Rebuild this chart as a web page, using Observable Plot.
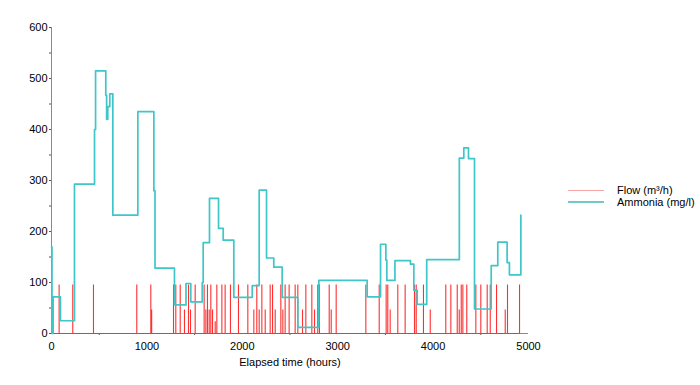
<!DOCTYPE html>
<html>
<head>
<meta charset="utf-8">
<script src="https://cdn.jsdelivr.net/npm/d3@7"></script>
<script src="https://cdn.jsdelivr.net/npm/@observablehq/plot@0.6"></script>
<style>
  body { margin: 0; background: #fff; }
  #wrap { position: relative; width: 700px; height: 385px; font-family: "Liberation Sans", Arial, sans-serif; }
  #legend { position: absolute; left: 568px; top: 184px; font-size: 11px; color: #000; line-height: 12px; }
  .row { display: flex; align-items: center; height: 12px; }
  .sw { width: 36px; height: 0; margin-right: 13px; }
</style>
</head>
<body>
<div id="wrap"><div id="legend"></div></div>
<script>
// Ammonia (mg/l) step series
const ammoniaTime = [0, 5, 17, 94, 241, 451, 462, 569, 578, 590, 611, 643, 905, 1073, 1085, 1289, 1410, 1460, 1580, 1590, 1656, 1751, 1800, 1911, 2104, 2177, 2254, 2330, 2418, 2582, 2802, 3309, 3449, 3505, 3515, 3600, 3763, 3798, 3833, 3933, 4275, 4322, 4371, 4434, 4609, 4678, 4776, 4800, 4920];
const ammoniaValue = [170, 0, 72, 25, 293, 400, 515, 467, 420, 445, 470, 232, 435, 280, 128, 56, 98, 62, 100, 178, 265, 206, 183, 71, 94, 281, 148, 130, 71, 12, 104, 72, 175, 144, 104, 143, 136, 85, 57, 145, 344, 364, 343, 48, 133, 179, 139, 115, 232];

// Flow (m³/h) pulses
const flowTime = [80, 223, 440, 894, 1041, 1050, 1279, 1303, 1349, 1394, 1436, 1457, 1506, 1600, 1618, 1635, 1653, 1670, 1688, 1716, 1733, 1786, 1820, 1876, 1960, 2058, 2121, 2152, 2177, 2205, 2240, 2292, 2317, 2345, 2404, 2425, 2449, 2491, 2554, 2582, 2631, 2666, 2729, 2757, 2791, 2809, 2911, 2932, 2984, 3295, 3435, 3508, 3525, 3550, 3630, 3707, 3805, 3823, 3899, 3970, 4133, 4186, 4253, 4274, 4295, 4312, 4353, 4448, 4500, 4567, 4599, 4665, 4756, 4780, 4906];
const flowValue = [96, 96, 96, 96, 96, 47, 96, 96, 96, 47, 96, 47, 96, 96, 47, 96, 47, 96, 47, 24, 96, 96, 96, 96, 96, 96, 47, 96, 47, 96, 47, 96, 96, 47, 96, 47, 96, 96, 96, 96, 47, 96, 96, 47, 96, 96, 96, 47, 96, 96, 96, 96, 96, 47, 96, 96, 96, 96, 96, 47, 96, 96, 96, 47, 96, 96, 96, 96, 96, 96, 96, 96, 47, 96, 96];

const xTicks = [0, 1000, 2000, 3000, 4000, 5000];
const xMinor = [500, 1500, 2500, 3500, 4500];
const yTicks = [0, 100, 200, 300, 400, 500, 600];
const yMinor = [50, 150, 250, 350, 450, 550];

const seriesNames = ["Flow (m³/h)", "Ammonia (mg/l)"];
const flowColor = "#ff3030";
const ammoniaColor = "#3ec6c8";

const ammonia = ammoniaTime.map((t, i) => ({t, v: ammoniaValue[i]}));
const flowPts = [{t: 0, v: 0}];
flowTime.forEach((t, i) => {
  flowPts.push({t, v: 0}, {t, v: flowValue[i]}, {t, v: 0});
});

const axisColor = "#8a8a8a";
const chart = Plot.plot({
  width: 700,
  height: 385,
  marginLeft: 51,
  marginRight: 172,
  marginTop: 27,
  marginBottom: 52,
  style: {fontFamily: "Liberation Sans, Arial, sans-serif", fontSize: "11px", color: "#000", background: "#fff"},
  x: {domain: [0, 5000]},
  y: {domain: [0, 600]},
  marks: [
    Plot.ruleX([0], {y1: 0, y2: 600, stroke: axisColor}),
    Plot.ruleY([0], {x1: 0, x2: 5000, stroke: axisColor}),
    Plot.axisY({ticks: yTicks, tickSize: 2, tickPadding: 2, stroke: "#555", label: null, fontSize: 11, tickFormat: "d"}),
    Plot.axisY({ticks: yMinor, tickSize: 2, text: null, stroke: "#555", label: null}),
    Plot.axisX({ticks: xTicks, tickSize: 0, tickPadding: 9, tickFormat: "d", label: "Elapsed time (hours)", labelAnchor: "center", labelArrow: "none", labelOffset: 32, fontSize: 11}),
    Plot.axisX({ticks: xMinor, tickSize: 2, text: null, stroke: "#555", label: null}),
    Plot.line(flowPts, {x: "t", y: "v", stroke: flowColor, strokeWidth: 1.1, strokeLinejoin: "miter"}),
    Plot.line(ammonia, {x: "t", y: "v", curve: "step-after", stroke: ammoniaColor, strokeWidth: 1.7})
  ]
});
document.getElementById("wrap").prepend(chart);

const legend = document.getElementById("legend");
[flowColor, ammoniaColor].forEach((c, i) => {
  const row = document.createElement("div");
  row.className = "row";
  const sw = document.createElement("div");
  sw.className = "sw";
  sw.style.borderTop = i === 0 ? "1.5px solid #f8a4a4" : "2px solid #72c9c9";
  const tx = document.createElement("span");
  tx.textContent = seriesNames[i];
  row.appendChild(sw);
  row.appendChild(tx);
  legend.appendChild(row);
});
</script>
</body>
</html>
